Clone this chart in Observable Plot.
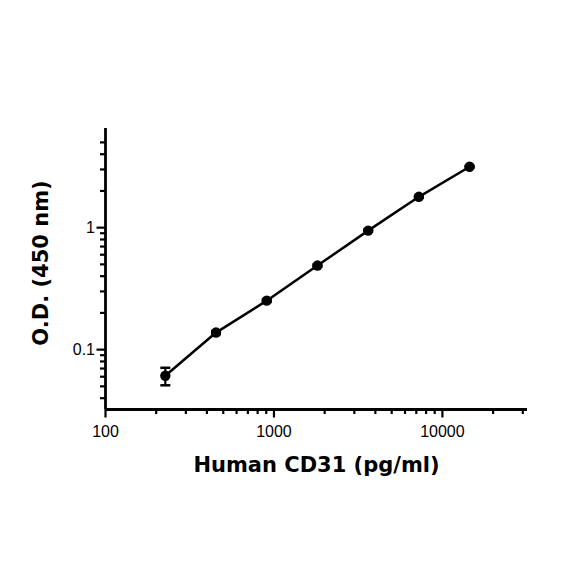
<!DOCTYPE html>
<html>
<head>
<meta charset="utf-8">
<script src="https://cdn.jsdelivr.net/npm/d3@7"></script>
<script src="https://cdn.jsdelivr.net/npm/@observablehq/plot@0.6"></script>
<style>
  html, body { margin: 0; padding: 0; background: #fff; }
  #chart svg { display: block; }
</style>
</head>
<body>
<div id="chart"></div>
<script>
// Data
const concentration = [226.5, 453, 906, 1812.5, 3625, 7250, 14500]; // pg/ml
const od = [0.061, 0.138, 0.252, 0.489, 0.945, 1.79, 3.16];
const sd = [0.010, 0.004, 0.006, 0.010, 0.015, 0.030, 0.040];

const xMajorTicks = [100, 1000, 10000];
const xMinorTicks = [200, 300, 400, 500, 600, 700, 800, 900,
  2000, 3000, 4000, 5000, 6000, 7000, 8000, 9000, 20000, 30000];
const yMajorTicks = [0.1, 1];
const yMinorTicks = [0.04, 0.05, 0.06, 0.07, 0.08, 0.09,
  0.2, 0.3, 0.4, 0.5, 0.6, 0.7, 0.8, 0.9, 2, 3, 4, 5];

const xTitle = "Human CD31 (pg/ml)";
const yTitle = "O.D. (450 nm)";

const data = concentration.map((c, i) => ({c, od: od[i], lo: od[i] - sd[i], hi: od[i] + sd[i]}));

const capSymbol = {
  draw(context, size) {
    context.moveTo(-5, 0);
    context.lineTo(5, 0);
  }
};

const tickFont = "Liberation Sans, Arial, sans-serif";
const titleFont = "DejaVu Sans, sans-serif";

const chart = Plot.plot({
  width: 584,
  height: 584,
  marginLeft: 105,
  marginRight: 57,
  marginTop: 128,
  marginBottom: 175,
  style: {background: "#fff", color: "#000"},
  x: {type: "log", domain: [100, 32000]},
  y: {type: "log", domain: [0.0323, 6.5]},
  marks: [
    Plot.axisX({ticks: xMinorTicks, tickSize: 5, strokeWidth: 2.2, text: null, label: null}),
    Plot.axisX({ticks: xMajorTicks, tickSize: 8.5, strokeWidth: 2.2, tickPadding: 8,
      tickFormat: d => String(d), fontSize: 16, fontFamily: tickFont, label: null}),
    Plot.axisY({ticks: yMinorTicks, tickSize: 5, strokeWidth: 2.2, text: null, label: null}),
    Plot.axisY({ticks: yMajorTicks, tickSize: 8.5, strokeWidth: 2.2, tickPadding: 2,
      tickFormat: d => String(d), fontSize: 16, fontFamily: tickFont, label: null}),
    Plot.ruleX([100], {strokeWidth: 2.8}),
    Plot.ruleY([0.0323], {strokeWidth: 2.8}),
    Plot.line(data, {x: "c", y: "od", strokeWidth: 2.5, stroke: "#000"}),
    Plot.ruleX(data, {x: "c", y1: "lo", y2: "hi", strokeWidth: 2.2}),
    Plot.dot(data, {x: "c", y: "lo", symbol: capSymbol, stroke: "#000", fill: "none", strokeWidth: 2.5}),
    Plot.dot(data, {x: "c", y: "hi", symbol: capSymbol, stroke: "#000", fill: "none", strokeWidth: 2.5}),
    Plot.dot(data, {x: "c", y: "od", r: 5.2, fill: "#000", stroke: "none"}),
    Plot.text([xTitle], {frameAnchor: "bottom", dy: 56, text: d => d, fontSize: 21,
      fontWeight: "bold", fontFamily: titleFont, lineAnchor: "middle", textAnchor: "middle", fill: "#000"}),
    Plot.text([yTitle], {frameAnchor: "left", dx: -64, dy: -6, rotate: -90, text: d => d, fontSize: 21,
      fontWeight: "bold", fontFamily: titleFont, lineAnchor: "middle", textAnchor: "middle", fill: "#000"})
  ]
});

document.getElementById("chart").append(chart);
</script>
</body>
</html>
